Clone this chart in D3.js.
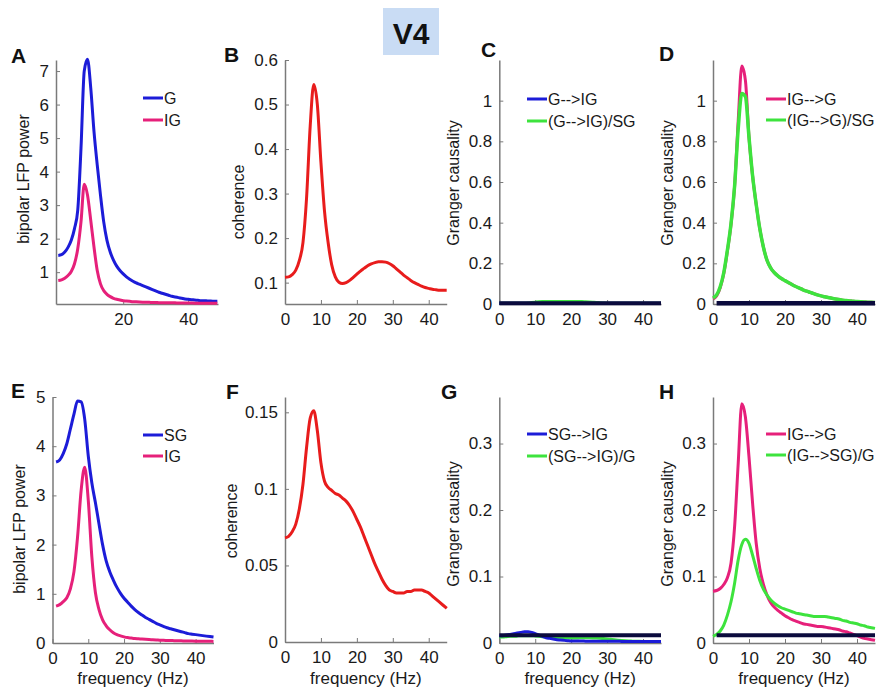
<!DOCTYPE html>
<html>
<head>
<meta charset="utf-8">
<script src="https://cdn.jsdelivr.net/npm/d3@7.9.0/dist/d3.min.js"></script>
<style>
  body { margin: 0; background: #fff; }
  svg { font-family: "Liberation Sans", Arial, sans-serif; }
  .axis path { stroke: #7a7a7a; stroke-width: 1.5; }
  .axis line { stroke: #7a7a7a; }
  .axis text { font-size: 17px; fill: #1a1a1a; }
</style>
</head>
<body>
<svg width="882" height="688"></svg>
<script>
// frequency grids (Hz)
const freqA = [0,1,2,3,4,5,6,7,8,9,10,11,12,13,14,15,16,17,18,19,20,21,22,23,24,25,26,27,28,29,30,31,32,33,34,35,36,37,38,39,40,41,42,43,44,45,46,47,48,49];
const freq = [0,1,2,3,4,5,6,7,8,9,10,11,12,13,14,15,16,17,18,19,20,21,22,23,24,25,26,27,28,29,30,31,32,33,34,35,36,37,38,39,40,41,42,43,44,45];
const freqE = [1,2,3,4,5,6,7,8,9,10,11,12,13,14,15,16,17,18,19,20,21,22,23,24,25,26,27,28,29,30,31,32,33,34,35,36,37,38,39,40,41,42,43,44,45];

// A: bipolar LFP power, G and IG
const powerG_A = [1.50,1.52,1.60,1.74,1.95,2.30,2.85,4.70,7.00,7.35,6.50,5.20,4.20,3.30,2.50,1.95,1.60,1.36,1.18,1.05,0.95,0.86,0.79,0.73,0.68,0.64,0.60,0.56,0.52,0.48,0.44,0.40,0.37,0.34,0.31,0.28,0.26,0.24,0.22,0.20,0.19,0.18,0.17,0.16,0.15,0.15,0.14,0.14,0.13,0.13];
const powerIG_A = [0.75,0.77,0.82,0.90,1.02,1.25,1.70,2.50,3.62,3.30,2.55,1.75,1.05,0.65,0.45,0.34,0.27,0.22,0.19,0.17,0.15,0.14,0.13,0.12,0.115,0.11,0.105,0.10,0.10,0.095,0.095,0.09,0.09,0.09,0.085,0.085,0.085,0.08,0.08,0.08,0.08,0.08,0.075,0.075,0.075,0.075,0.07,0.07,0.07,0.07];

// B: coherence G-IG
const cohB = [0.112,0.113,0.118,0.128,0.150,0.190,0.290,0.450,0.545,0.500,0.370,0.260,0.190,0.140,0.113,0.101,0.098,0.100,0.105,0.112,0.119,0.126,0.132,0.138,0.142,0.145,0.147,0.147,0.146,0.143,0.138,0.131,0.124,0.117,0.111,0.105,0.100,0.096,0.092,0.089,0.087,0.085,0.084,0.083,0.083,0.083];

// C: Granger G-->IG
const gcC_GtoIG = [0.004,0.004,0.004,0.004,0.004,0.004,0.004,0.004,0.004,0.004,0.004,0.004,0.004,0.004,0.004,0.004,0.004,0.004,0.004,0.004,0.004,0.004,0.004,0.004,0.004,0.004,0.004,0.004,0.004,0.004,0.004,0.004,0.004,0.004,0.004,0.004,0.004,0.004,0.004,0.004,0.004,0.004,0.004,0.004,0.004,0.004];
const gcC_cond = [0.004,0.004,0.004,0.004,0.004,0.004,0.004,0.004,0.005,0.007,0.009,0.011,0.012,0.012,0.012,0.012,0.012,0.012,0.012,0.012,0.012,0.012,0.012,0.012,0.011,0.010,0.009,0.008,0.006,0.005,0.004,0.004,0.004,0.004,0.004,0.004,0.004,0.004,0.004,0.004,0.004,0.004,0.004,0.004,0.004,0.004];
const threshFreqC = [0, 45];
const threshC = [0.004, 0.004];

// D: Granger IG-->G
const gcD_IGtoG = [0.025,0.04,0.08,0.15,0.26,0.39,0.58,0.90,1.17,1.10,0.82,0.63,0.49,0.37,0.28,0.215,0.178,0.155,0.138,0.125,0.115,0.105,0.095,0.086,0.078,0.070,0.063,0.057,0.051,0.045,0.040,0.036,0.032,0.028,0.025,0.022,0.019,0.017,0.015,0.013,0.012,0.011,0.010,0.009,0.009,0.008];
const gcD_cond = [0.03,0.045,0.085,0.155,0.265,0.395,0.58,0.86,1.035,1.02,0.82,0.63,0.49,0.37,0.28,0.215,0.178,0.155,0.138,0.125,0.115,0.105,0.095,0.086,0.078,0.070,0.063,0.057,0.051,0.045,0.040,0.036,0.032,0.028,0.025,0.022,0.019,0.017,0.015,0.013,0.012,0.011,0.010,0.009,0.009,0.008];
const threshFreqD = [1, 45];
const threshD = [0.004, 0.004];

// E: bipolar LFP power, SG and IG
const powerSG_E = [3.68,3.72,3.85,4.05,4.35,4.65,4.92,4.90,4.55,3.80,3.25,2.85,2.42,2.00,1.67,1.45,1.28,1.13,1.01,0.91,0.83,0.75,0.68,0.62,0.57,0.52,0.48,0.44,0.40,0.37,0.34,0.31,0.29,0.27,0.25,0.23,0.21,0.19,0.18,0.17,0.16,0.15,0.14,0.13,0.12];
const powerIG_E = [0.75,0.78,0.84,0.92,1.10,1.45,2.15,3.10,3.57,2.90,1.75,1.02,0.68,0.47,0.35,0.27,0.21,0.17,0.145,0.125,0.11,0.10,0.09,0.085,0.08,0.075,0.07,0.066,0.062,0.058,0.055,0.052,0.05,0.048,0.046,0.044,0.042,0.04,0.039,0.038,0.037,0.036,0.035,0.034,0.033];

// F: coherence SG-IG
const cohF = [0.068,0.069,0.072,0.077,0.087,0.103,0.127,0.146,0.151,0.138,0.117,0.105,0.101,0.099,0.097,0.096,0.094,0.092,0.089,0.085,0.080,0.075,0.069,0.063,0.057,0.051,0.046,0.041,0.037,0.034,0.033,0.032,0.032,0.032,0.033,0.033,0.034,0.034,0.034,0.033,0.032,0.030,0.028,0.026,0.024,0.022];

// G: Granger SG-->IG
const gcG_SGtoIG = [0.011,0.011,0.012,0.013,0.014,0.015,0.016,0.017,0.017,0.016,0.014,0.012,0.010,0.008,0.007,0.006,0.005,0.0045,0.004,0.0035,0.003,0.003,0.003,0.003,0.0028,0.0028,0.0027,0.0027,0.0026,0.0026,0.0025,0.0025,0.0025,0.0025,0.0024,0.0024,0.0024,0.0023,0.0023,0.0023,0.0023,0.0022,0.0022,0.0022,0.0022,0.0022];
const gcG_cond = [0.009,0.009,0.0095,0.010,0.010,0.0105,0.011,0.011,0.011,0.011,0.0105,0.010,0.0095,0.009,0.0085,0.008,0.0078,0.0076,0.0075,0.0075,0.0075,0.0076,0.0077,0.0078,0.0078,0.0078,0.0077,0.0075,0.0072,0.0068,0.0062,0.0055,0.0048,0.0042,0.0037,0.0033,0.003,0.0028,0.0026,0.0025,0.0024,0.0023,0.0023,0.0022,0.0022,0.0022];
const threshFreqG = [0, 45];
const threshG = [0.0115, 0.0115];

// H: Granger IG-->G
const gcH_IGtoG = [0.078,0.079,0.082,0.088,0.098,0.120,0.175,0.27,0.36,0.34,0.28,0.21,0.15,0.112,0.088,0.072,0.061,0.054,0.049,0.045,0.041,0.038,0.035,0.033,0.031,0.029,0.028,0.027,0.026,0.025,0.025,0.024,0.023,0.022,0.021,0.020,0.018,0.017,0.015,0.013,0.011,0.009,0.007,0.006,0.005,0.004];
const gcH_cond = [0.010,0.013,0.018,0.027,0.042,0.062,0.090,0.125,0.148,0.156,0.150,0.132,0.112,0.094,0.081,0.072,0.065,0.060,0.056,0.053,0.051,0.049,0.047,0.045,0.044,0.043,0.042,0.041,0.040,0.040,0.040,0.040,0.039,0.038,0.037,0.036,0.034,0.033,0.031,0.030,0.029,0.027,0.026,0.024,0.023,0.022];
const threshFreqH = [1, 45];
const threshH = [0.0115, 0.0115];

// tick values
const ticksX = [0, 10, 20, 30, 40];
const ticksXA = [20, 40];
const ticksYA = [1, 2, 3, 4, 5, 6, 7];
const ticksYB = [0.1, 0.2, 0.3, 0.4, 0.5, 0.6];
const ticksYCD = [0, 0.2, 0.4, 0.6, 0.8, 1];
const ticksYE = [0, 1, 2, 3, 4, 5];
const ticksYF = [0, 0.05, 0.1, 0.15];
const ticksYGH = [0, 0.1, 0.2, 0.3];

const BLUE = "#1c1cd8";
const PINK = "#e6207a";
const RED = "#e81c1c";
const GREEN = "#3de33d";
const NAVY = "#0b0b3d";

const svg = d3.select("svg");
const fmt = d3.format("~g");

// title box
svg.append("rect").attr("x", 383).attr("y", 8).attr("width", 56).attr("height", 47).attr("fill", "#c9dcf4");
svg.append("text").attr("x", 411).attr("y", 43.5).attr("text-anchor", "middle")
  .attr("font-size", 30).attr("font-weight", "bold").attr("fill", "#111").text("V4");

function drawPanel(p) {
  const x = d3.scaleLinear().domain(p.xDomain).range([p.left, p.right]);
  const y = d3.scaleLinear().domain(p.yDomain).range([p.bottom, p.top]);

  svg.append("g").attr("class", "axis").attr("transform", `translate(0,${p.bottom})`)
    .call(d3.axisBottom(x).tickValues(p.xTicks).tickFormat(fmt).tickSizeInner(-4).tickSizeOuter(0).tickPadding(9));
  svg.append("g").attr("class", "axis").attr("transform", `translate(${p.left},0)`)
    .call(d3.axisLeft(y).tickValues(p.yTicks).tickFormat(fmt).tickSizeInner(-4).tickSizeOuter(0).tickPadding(7));

  const line = d3.line().x((d) => x(d[0])).y((d) => y(d[1])).curve(d3.curveMonotoneX);
  p.series.forEach((s) => {
    svg.append("path")
      .datum(d3.zip(s.freq, s.values))
      .attr("d", line)
      .attr("fill", "none")
      .attr("stroke", s.color)
      .attr("stroke-width", s.width || 3)
      .attr("stroke-linejoin", "round");
  });

  if (p.legend) {
    p.legend.items.forEach((it, i) => {
      const ly = p.legend.y[i];
      svg.append("line").attr("x1", p.legend.x).attr("x2", p.legend.x + 20)
        .attr("y1", ly).attr("y2", ly).attr("stroke", it.color).attr("stroke-width", 3);
      svg.append("text").attr("x", p.legend.x + 21).attr("y", ly).attr("dy", "0.36em")
        .attr("font-size", 16).attr("fill", "#1a1a1a").text(it.label);
    });
  }

  svg.append("text").attr("x", p.label[1]).attr("y", p.label[2])
    .attr("font-size", 21).attr("font-weight", "bold").attr("fill", "#111").text(p.label[0]);

  svg.append("text")
    .attr("transform", `translate(${p.yTitle[1]},${p.yTitle[2]}) rotate(-90)`)
    .attr("text-anchor", "middle").attr("dy", "0.35em")
    .attr("font-size", 16).attr("fill", "#1a1a1a").text(p.yTitle[0]);

  if (p.xTitle) {
    svg.append("text").attr("x", (p.left + p.right) / 2).attr("y", 684)
      .attr("text-anchor", "middle").attr("font-size", 17).attr("fill", "#1a1a1a").text(p.xTitle);
  }
}

const top1 = 60, bottom1 = 304, top2 = 397, bottom2 = 643;

drawPanel({
  left: 56, right: 218, top: top1, bottom: bottom1,
  xDomain: [-0.7, 49.2], yDomain: [0.05, 7.33], xTicks: ticksXA, yTicks: ticksYA,
  series: [
    { freq: freqA, values: powerG_A, color: BLUE },
    { freq: freqA, values: powerIG_A, color: PINK },
  ],
  legend: { x: 143, y: [98, 120], items: [{ label: "G", color: BLUE }, { label: "IG", color: PINK }] },
  label: ["A", 11, 63], yTitle: ["bipolar LFP power", 23, 179],
});

drawPanel({
  left: 285, right: 446.7, top: top1, bottom: bottom1,
  xDomain: [0, 45], yDomain: [0.052, 0.6], xTicks: ticksX, yTicks: ticksYB,
  series: [{ freq: freq, values: cohB, color: RED }],
  label: ["B", 224, 62], yTitle: ["coherence", 238, 202],
});

drawPanel({
  left: 499.3, right: 661, top: top1, bottom: bottom1,
  xDomain: [0, 45], yDomain: [0, 1.2], xTicks: ticksX, yTicks: ticksYCD,
  series: [
    { freq: freq, values: gcC_cond, color: GREEN },
    { freq: freq, values: gcC_GtoIG, color: BLUE },
    { freq: threshFreqC, values: threshC, color: NAVY, width: 4 },
  ],
  legend: { x: 527, y: [99, 121], items: [{ label: "G-->IG", color: BLUE }, { label: "(G-->IG)/SG", color: GREEN }] },
  label: ["C", 481, 57], yTitle: ["Granger causality", 453, 183],
});

drawPanel({
  left: 713, right: 875, top: top1, bottom: bottom1,
  xDomain: [0, 45], yDomain: [0, 1.2], xTicks: ticksX, yTicks: ticksYCD,
  series: [
    { freq: freq, values: gcD_IGtoG, color: PINK },
    { freq: freq, values: gcD_cond, color: GREEN, width: 3.5 },
    { freq: threshFreqD, values: threshD, color: NAVY, width: 4.5 },
  ],
  legend: { x: 766, y: [99, 120], items: [{ label: "IG-->G", color: PINK }, { label: "(IG-->G)/SG", color: GREEN }] },
  label: ["D", 659, 61], yTitle: ["Granger causality", 667, 183],
});

drawPanel({
  left: 52.5, right: 213.5, top: top2, bottom: bottom2,
  xDomain: [0, 45], yDomain: [0, 5], xTicks: ticksX, yTicks: ticksYE,
  series: [
    { freq: freqE, values: powerSG_E, color: BLUE },
    { freq: freqE, values: powerIG_E, color: PINK },
  ],
  legend: { x: 143, y: [435, 456], items: [{ label: "SG", color: BLUE }, { label: "IG", color: PINK }] },
  label: ["E", 11, 398], yTitle: ["bipolar LFP power", 19, 529], xTitle: "frequency (Hz)",
});

drawPanel({
  left: 285, right: 446.7, top: top2, bottom: 642,
  xDomain: [0, 45], yDomain: [0, 0.16], xTicks: ticksX, yTicks: ticksYF,
  series: [{ freq: freq, values: cohF, color: RED }],
  label: ["F", 226, 399], yTitle: ["coherence", 231, 521], xTitle: "frequency (Hz)",
});

drawPanel({
  left: 499.3, right: 661, top: top2, bottom: bottom2,
  xDomain: [0, 45], yDomain: [0, 0.37], xTicks: ticksX, yTicks: ticksYGH,
  series: [
    { freq: freq, values: gcG_cond, color: GREEN },
    { freq: freq, values: gcG_SGtoIG, color: BLUE },
    { freq: threshFreqG, values: threshG, color: NAVY, width: 4 },
  ],
  legend: { x: 527, y: [434, 456], items: [{ label: "SG-->IG", color: BLUE }, { label: "(SG-->IG)/G", color: GREEN }] },
  label: ["G", 441, 399], yTitle: ["Granger causality", 453, 524], xTitle: "frequency (Hz)",
});

drawPanel({
  left: 713, right: 875, top: top2, bottom: bottom2,
  xDomain: [0, 45], yDomain: [0, 0.37], xTicks: ticksX, yTicks: ticksYGH,
  series: [
    { freq: freq, values: gcH_IGtoG, color: PINK },
    { freq: freq, values: gcH_cond, color: GREEN },
    { freq: threshFreqH, values: threshH, color: NAVY, width: 4 },
  ],
  legend: { x: 766, y: [434, 455], items: [{ label: "IG-->G", color: PINK }, { label: "(IG-->SG)/G", color: GREEN }] },
  label: ["H", 659, 399], yTitle: ["Granger causality", 667, 524], xTitle: "frequency (Hz)",
});
</script>
</body>
</html>
